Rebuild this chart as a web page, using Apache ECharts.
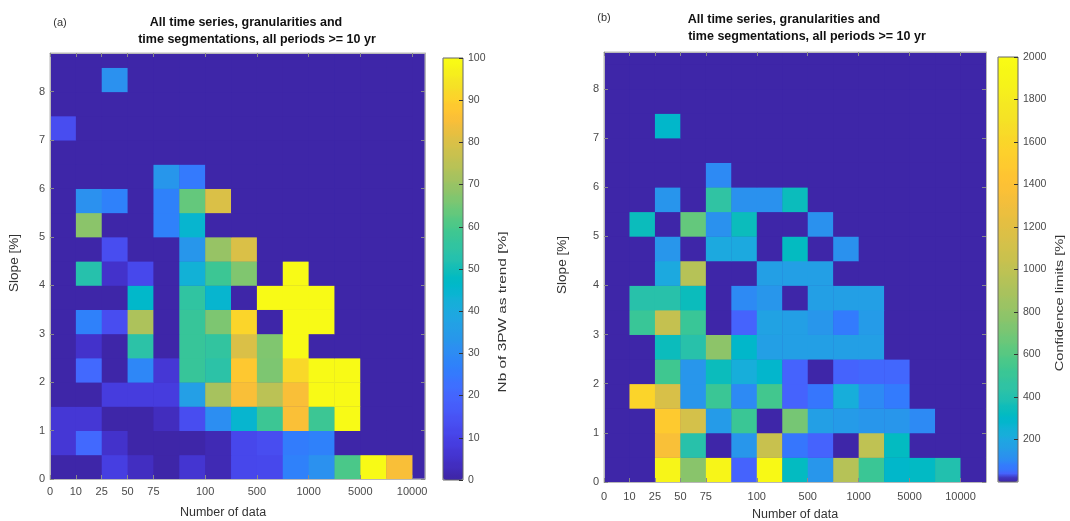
<!DOCTYPE html>
<html><head><meta charset="utf-8">
<script src="https://cdn.jsdelivr.net/npm/echarts@6/dist/echarts.min.js"></script>
<style>html,body{margin:0;padding:0;background:#fff}#c{width:1070px;height:521px}</style>
</head><body><div id="c"></div><script>
// ---------------- data ----------------
const xTickLabels = ['0','10','25','50','75','100','500','1000','5000','10000'];
const xTickBins   = [0,1,2,3,4,6,8,10,12,14];
const yTickValues = [0,1,2,3,4,5,6,7,8];
const slopeStep = 0.5;
const cbTicksA = [0,10,20,30,40,50,60,70,80,90,100];
const cbTicksB = [200,400,600,800,1000,1200,1400,1600,1800,2000];

// (a) Nb of 3PW as trend [%]; rows = slope bins from 0 upwards, cols = number-of-data bins
const valuesA = [
  [0,0,9,4,0,6,2,11,12,27,32,60,99,85],
  [7,21,5,0,0,0,2,11,13,26,27,0,0,0],
  [7,7,0,0,3,13,31,45,58,86,58,99,0,0],
  [0,0,8,8,8,36,72,85,75,85,99,99,0,0],
  [0,21,0,29,7,57,54,88,66,92,99,99,0,0],
  [0,5,0,54,0,57,56,80,67,99,0,0,0,0],
  [0,27,13,73,0,57,66,91,0,99,99,0,0,0],
  [0,0,0,46,0,55,45,0,99,99,99,0,0,0],
  [0,53,5,12,0,43,58,67,0,99,0,0,0,0],
  [0,0,13,0,0,33,70,80,0,0,0,0,0,0],
  [0,68,0,0,27,45,0,0,0,0,0,0,0,0],
  [0,32,27,0,27,63,80,0,0,0,0,0,0,0],
  [0,0,0,0,33,25,0,0,0,0,0,0,0,0],
  [0,0,0,0,0,0,0,0,0,0,0,0,0,0],
  [13,0,0,0,0,0,0,0,0,0,0,0,0,0],
  [0,0,0,0,0,0,0,0,0,0,0,0,0,0],
  [0,0,32,0,0,0,0,0,0,0,0,0,0,0],
  [0,0,0,0,0,0,0,0,0,0,0,0,0,0]
];
// (b) Confidence limits [%]
const valuesB = [
  [0,0,1900,760,1900,35,1950,320,140,950,510,300,310,400,0],
  [0,0,1370,410,0,140,1040,60,35,0,1000,320,0,0,0],
  [0,0,1490,1120,150,520,0,700,170,150,140,130,105,0,0],
  [0,1580,1150,140,520,110,540,35,60,220,105,70,0,0,0],
  [0,0,530,130,340,230,280,38,0,40,50,50,0,0,0],
  [0,0,340,420,780,290,160,170,165,170,160,0,0,0,0],
  [0,500,1030,500,0,38,180,170,140,70,150,0,0,0,0],
  [0,410,410,340,0,110,140,0,165,165,165,0,0,0,0],
  [0,0,210,950,0,0,165,165,165,0,0,0,0,0,0],
  [0,0,130,0,210,210,0,320,0,120,0,0,0,0,0],
  [0,340,0,650,120,340,0,0,120,0,0,0,0,0,0],
  [0,0,125,0,460,120,120,340,0,0,0,0,0,0,0],
  [0,0,0,0,110,0,0,0,0,0,0,0,0,0,0],
  [0,0,0,0,0,0,0,0,0,0,0,0,0,0,0],
  [0,0,300,0,0,0,0,0,0,0,0,0,0,0,0],
  [0,0,0,0,0,0,0,0,0,0,0,0,0,0,0],
  [0,0,0,0,0,0,0,0,0,0,0,0,0,0,0],
  [0,0,0,0,0,0,0,0,0,0,0,0,0,0,0]
];

// ---------------- colormap (parula) ----------------
const PARULA = [
[0.2422,0.1504,0.6603],[0.2504,0.1650,0.7076],[0.2578,0.1818,0.7511],[0.2647,0.1978,0.7952],
[0.2706,0.2147,0.8364],[0.2751,0.2342,0.8710],[0.2783,0.2559,0.8991],[0.2803,0.2782,0.9221],
[0.2813,0.3006,0.9414],[0.2810,0.3228,0.9579],[0.2795,0.3447,0.9717],[0.2760,0.3667,0.9829],
[0.2699,0.3892,0.9906],[0.2602,0.4123,0.9952],[0.2440,0.4358,0.9988],[0.2206,0.4603,0.9973],
[0.1963,0.4847,0.9892],[0.1834,0.5074,0.9798],[0.1786,0.5289,0.9682],[0.1764,0.5499,0.9520],
[0.1687,0.5703,0.9359],[0.1540,0.5902,0.9218],[0.1460,0.6091,0.9079],[0.1380,0.6276,0.8973],
[0.1248,0.6459,0.8883],[0.1113,0.6635,0.8763],[0.0952,0.6798,0.8598],[0.0689,0.6948,0.8394],
[0.0297,0.7082,0.8163],[0.0036,0.7199,0.7905],[0.0067,0.7299,0.7630],[0.0433,0.7386,0.7350],
[0.0964,0.7461,0.7076],[0.1408,0.7530,0.6816],[0.1717,0.7597,0.6561],[0.1938,0.7668,0.6286],
[0.2161,0.7738,0.5984],[0.2470,0.7796,0.5678],[0.2906,0.7834,0.5385],[0.3406,0.7846,0.5113],
[0.3909,0.7827,0.4869],[0.4456,0.7792,0.4638],[0.4975,0.7746,0.4404],[0.5447,0.7694,0.4174],
[0.5931,0.7655,0.3975],[0.6373,0.7625,0.3771],[0.6802,0.7608,0.3577],[0.7212,0.7596,0.3372],
[0.7600,0.7580,0.3191],[0.7975,0.7568,0.3012],[0.8334,0.7555,0.2876],[0.8703,0.7520,0.2703],
[0.9070,0.7497,0.2528],[0.9438,0.7464,0.2389],[0.9753,0.7507,0.2195],[0.9951,0.7635,0.1993],
[0.9963,0.7895,0.1841],[0.9903,0.8187,0.1705],[0.9759,0.8479,0.1602],[0.9619,0.8777,0.1498],
[0.9589,0.9078,0.1366],[0.9634,0.9376,0.1126],[0.9690,0.9666,0.0890],[0.9769,0.9839,0.0805]];
function parula(p){
  p = Math.max(0, Math.min(1, p));
  const f = p * 63, i = Math.floor(f), t = f - i;
  const a = PARULA[i], b = PARULA[Math.min(63, i + 1)];
  const c = a.map((v, k) => Math.round(255 * (v + (b[k] - v) * t)));
  return 'rgb(' + c.join(',') + ')';
}
function colormap(gamma){
  const out = [];
  for (let k = 0; k < 64; k++) { const col = parula(Math.pow(k / 63, gamma)); out.push(col, col); }
  return out;
}
const BG = parula(0);

function cells(values){
  const d = [];
  values.forEach((row, r) => row.forEach((v, c) => d.push([c, r * slopeStep, v])));
  return d;
}
function renderCell(params, api){
  const c = api.value(0), s = api.value(1);
  const p0 = api.coord([c, s + slopeStep]);
  const p1 = api.coord([c + 1, s]);
  return { type: 'rect', shape: { x: p0[0], y: p0[1], width: p1[0] - p0[0] + 0.4, height: p1[1] - p0[1] + 0.4 },
           style: { fill: api.visual('color') } };
}

const FONT = "'Liberation Sans', Arial, Helvetica, sans-serif";
const TICKC = '#4a4a4a';
const AXC = '#b8b8b8';
function xAxisFor(gi, max, margin){
  return { gridIndex: gi, type: 'value', min: 0, max: max, z: 5,
    axisLine: { show: true, onZero: false, lineStyle: { color: AXC, width: 1 } },
    axisTick: { show: true, inside: true, length: 4, customValues: xTickBins, lineStyle: { color: '#8a8a8a' } },
    axisLabel: { customValues: xTickBins, margin: margin, fontSize: 11, color: TICKC, fontFamily: FONT,
      formatter: v => { const i = xTickBins.indexOf(v); return i >= 0 ? xTickLabels[i] : ''; } },
    splitLine: { show: false } };
}
function xMirror(gi, max){
  return { gridIndex: gi, type: 'value', position: 'top', min: 0, max: max, z: 5,
    axisLine: { show: true, onZero: false, lineStyle: { color: AXC, width: 1 } },
    axisTick: { show: true, inside: true, length: 4, customValues: xTickBins, lineStyle: { color: '#8a8a8a' } },
    axisLabel: { show: false }, splitLine: { show: false } };
}
function yAxisFor(gi, max){
  return { gridIndex: gi, type: 'value', min: 0, max: max, z: 5,
    axisLine: { show: true, onZero: false, lineStyle: { color: AXC, width: 1 } },
    axisTick: { show: true, inside: true, length: 4, customValues: yTickValues, lineStyle: { color: '#8a8a8a' } },
    axisLabel: { customValues: yTickValues, margin: 5, fontSize: 11, color: TICKC, fontFamily: FONT },
    splitLine: { show: false } };
}
function yMirror(gi, max){
  return { gridIndex: gi, type: 'value', position: 'right', min: 0, max: max, z: 5,
    axisLine: { show: true, onZero: false, lineStyle: { color: AXC, width: 1 } },
    axisTick: { show: true, inside: true, length: 4, customValues: yTickValues, lineStyle: { color: '#8a8a8a' } },
    axisLabel: { show: false }, splitLine: { show: false } };
}
function cbAxis(gi, max, ticks){
  return { gridIndex: gi, type: 'value', position: 'right', min: 0, max: max, z: 10,
    axisLine: { show: false, onZero: false },
    axisTick: { show: true, inside: true, length: 4, customValues: ticks, lineStyle: { color: '#333' } },
    axisLabel: { customValues: ticks, margin: 5, fontSize: 10.5, color: TICKC, fontFamily: FONT, formatter: v => String(v) },
    splitLine: { show: false } };
}
function txt(x, y, text, size, weight, rot, sx){
  return { type: 'text', x: x, y: y, rotation: rot || 0, scaleX: sx || 1, z: 20,
    style: { text: text, align: 'center', verticalAlign: 'middle', textAlign: 'center', textVerticalAlign: 'middle',
      fontSize: size, fontWeight: weight || 'normal', fontFamily: FONT, fill: weight === 'bold' ? '#111' : '#333' } };
}

const chart = echarts.init(document.getElementById('c'), null, { renderer: 'canvas' });
chart.setOption({
  animation: false,
  backgroundColor: '#ffffff',
  textStyle: { fontFamily: FONT },
  grid: [
    { left: 50, top: 53, width: 375, height: 426, show: true, backgroundColor: BG, borderColor: AXC, borderWidth: 1 },
    { left: 604, top: 52, width: 382, height: 430, show: true, backgroundColor: BG, borderColor: AXC, borderWidth: 1 },
    { left: 443, top: 58, width: 20, height: 422, show: true, backgroundColor: 'transparent', borderColor: '#666', borderWidth: 1, z: 10 },
    { left: 998, top: 57, width: 20, height: 425, show: true, backgroundColor: 'transparent', borderColor: '#666', borderWidth: 1, z: 10 }
  ],
  xAxis: [
    xAxisFor(0, 14.5, 7),
    xAxisFor(1, 15, 9),
    { gridIndex: 2, type: 'value', min: 0, max: 1, show: false },
    { gridIndex: 3, type: 'value', min: 0, max: 1, show: false },
    xMirror(0, 14.5),
    xMirror(1, 15)
  ],
  yAxis: [
    yAxisFor(0, 8.8),
    yAxisFor(1, 8.75),
    cbAxis(2, 100, cbTicksA),
    cbAxis(3, 2000, cbTicksB),
    yMirror(0, 8.8),
    yMirror(1, 8.75)
  ],
  visualMap: [
    { type: 'continuous', seriesIndex: 0, dimension: 2, min: 0, max: 100, inRange: { color: colormap(1) },
      orient: 'vertical', left: 443, top: 58, itemWidth: 20, itemHeight: 422, padding: 0, calculable: false,
      hoverLink: false, showLabel: false, text: null },
    { type: 'continuous', seriesIndex: 1, dimension: 2, min: 0, max: 2000, inRange: { color: colormap(0.4) },
      orient: 'vertical', left: 998, top: 57, itemWidth: 20, itemHeight: 425, padding: 0, calculable: false,
      hoverLink: false, showLabel: false, text: null }
  ],
  series: [
    { type: 'custom', xAxisIndex: 0, yAxisIndex: 0, renderItem: renderCell, data: cells(valuesA), encode: { x: 0, y: 1 }, silent: true, clip: true },
    { type: 'custom', xAxisIndex: 1, yAxisIndex: 1, renderItem: renderCell, data: cells(valuesB), encode: { x: 0, y: 1 }, silent: true, clip: true }
  ],
  graphic: [
    txt(60, 23, '(a)', 11),
    txt(246, 23, 'All time series, granularities and', 12.5, 'bold'),
    txt(257, 40, 'time segmentations, all periods >= 10 yr', 12.5, 'bold'),
    txt(604, 18, '(b)', 11),
    txt(784, 20, 'All time series, granularities and', 12.5, 'bold'),
    txt(807, 37, 'time segmentations, all periods >= 10 yr', 12.5, 'bold'),
    txt(223, 513, 'Number of data', 12.5),
    txt(795, 515, 'Number of data', 12.5),
    txt(15, 263, 'Slope [%]', 12.5, 'normal', Math.PI / 2, 1.08),
    txt(563, 265, 'Slope [%]', 12.5, 'normal', Math.PI / 2, 1.08),
    txt(503, 312, 'Nb of 3PW as trend [%]', 11, 'normal', Math.PI / 2, 1.4),
    txt(1060, 303, 'Confidence limits [%]', 11, 'normal', Math.PI / 2, 1.33)
  ]
});
</script></body></html>
